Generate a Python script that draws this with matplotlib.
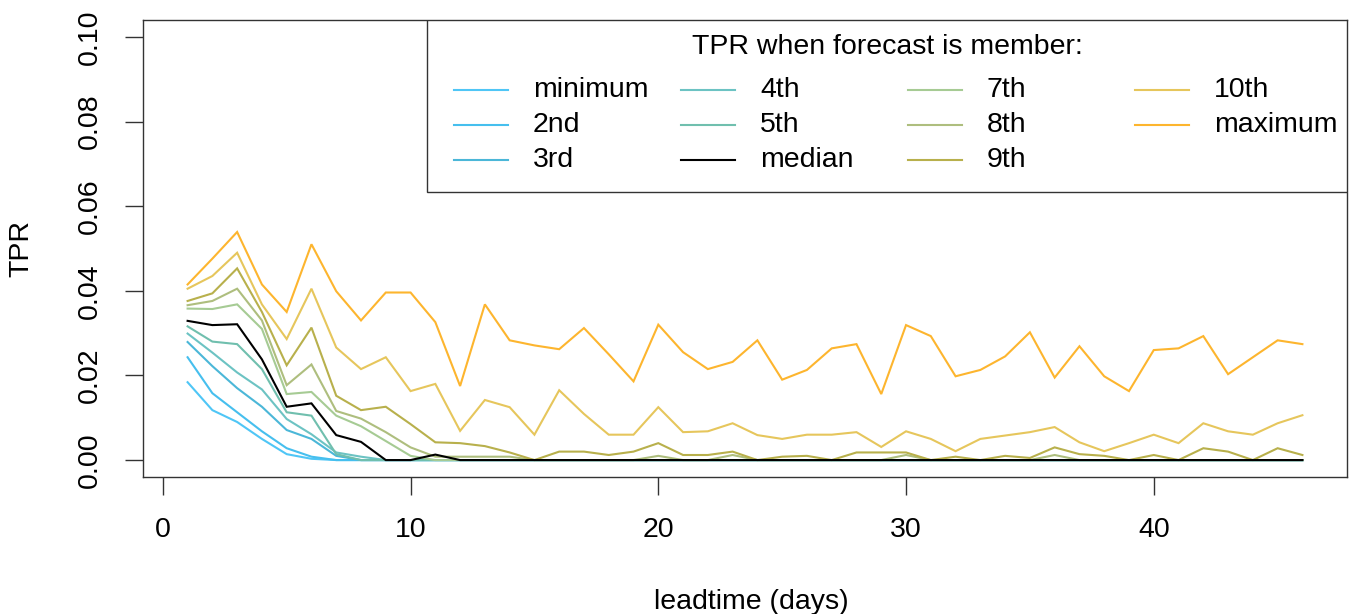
import numpy as np
import matplotlib
matplotlib.use("Agg")
import matplotlib.pyplot as plt
from matplotlib.patches import Rectangle

# ---------- data ----------
leadtime = list(range(1, 47))

tpr_min = [0.0184, 0.0118, 0.0090, 0.0050, 0.0014, 0.0003] + [0.0] * 40
tpr_2nd = [0.0243, 0.0158, 0.0113, 0.0068, 0.0028, 0.0008] + [0.0] * 40
tpr_3rd = [0.0279, 0.0222, 0.0170, 0.0126, 0.0071, 0.0050, 0.0010] + [0.0] * 39
tpr_4th = [0.0299, 0.0254, 0.0207, 0.0167, 0.0097, 0.0061, 0.0018, 0.0008] + [0.0] * 38
tpr_5th = [0.0316, 0.0280, 0.0274, 0.0215, 0.0113, 0.0105, 0.0014] + [0.0] * 39
tpr_median = [0.0329, 0.0319, 0.0321, 0.0238, 0.0126, 0.0134, 0.0059, 0.0043, 0.0, 0.0,
              0.0013] + [0.0] * 35
tpr_7th = [0.0358, 0.0357, 0.0368, 0.0310, 0.0156, 0.0161, 0.0105, 0.0080, 0.0045, 0.0010] + [0.0] * 36
tpr_8th = [0.0366, 0.0376, 0.0405, 0.0330, 0.0177, 0.0226, 0.0116, 0.0098, 0.0066, 0.0030,
           0.0008, 0.0008, 0.0008, 0.0008, 0.0, 0.0, 0.0, 0.0, 0.0, 0.0010,
           0.0, 0.0, 0.0012, 0.0, 0.0, 0.0, 0.0, 0.0, 0.0, 0.0012,
           0.0, 0.0, 0.0, 0.0, 0.0, 0.0012, 0.0, 0.0, 0.0, 0.0,
           0.0, 0.0, 0.0, 0.0, 0.0, 0.0]
tpr_9th = [0.0376, 0.0394, 0.0453, 0.0350, 0.0224, 0.0313, 0.0152, 0.0118, 0.0126, 0.0085,
           0.0042, 0.0040, 0.0033, 0.0018, 0.0000, 0.0020, 0.0020, 0.0012, 0.0020, 0.0040,
           0.0012, 0.0012, 0.0020, 0.0000, 0.0008, 0.0010, 0.0000, 0.0018, 0.0018, 0.0018,
           0.0000, 0.0008, 0.0000, 0.0010, 0.0005, 0.0030, 0.0014, 0.0010, 0.0000, 0.0012,
           0.0000, 0.0028, 0.0020, 0.0000, 0.0028, 0.0012]
tpr_10th = [0.0405, 0.0435, 0.0490, 0.0368, 0.0286, 0.0405, 0.0266, 0.0215, 0.0243, 0.0163,
            0.0180, 0.0069, 0.0142, 0.0125, 0.0060, 0.0165, 0.0109, 0.0060, 0.0060, 0.0125,
            0.0066, 0.0068, 0.0087, 0.0059, 0.0050, 0.0060, 0.0060, 0.0066, 0.0031, 0.0068,
            0.0050, 0.0021, 0.0050, 0.0058, 0.0066, 0.0078, 0.0042, 0.0021, 0.0040, 0.0060,
            0.0040, 0.0087, 0.0068, 0.0060, 0.0087, 0.0106]
tpr_max = [0.0415, 0.0476, 0.0539, 0.0415, 0.0350, 0.0510, 0.0399, 0.0330, 0.0396, 0.0396,
           0.0326, 0.0175, 0.0368, 0.0283, 0.0271, 0.0262, 0.0312, 0.0250, 0.0186, 0.0320,
           0.0255, 0.0215, 0.0232, 0.0283, 0.0190, 0.0213, 0.0264, 0.0274, 0.0156, 0.0319,
           0.0293, 0.0198, 0.0213, 0.0245, 0.0302, 0.0195, 0.0269, 0.0198, 0.0163, 0.0260,
           0.0264, 0.0293, 0.0203, 0.0243, 0.0283, 0.0274]

member_names = ["minimum", "2nd", "3rd", "4th", "5th", "median",
                "7th", "8th", "9th", "10th", "maximum"]
member_series = [tpr_min, tpr_2nd, tpr_3rd, tpr_4th, tpr_5th, tpr_median,
                 tpr_7th, tpr_8th, tpr_9th, tpr_10th, tpr_max]
member_colors = ["#4fc6f6", "#46bfee", "#4bb7d8", "#6cc3c3", "#70bfae", "#000000",
                 "#a6cb94", "#aebe7e", "#b8b04c", "#e6c65c", "#fdb52e"]

# ---------- plot ----------
plt.rcParams["font.family"] = ["Liberation Sans", "DejaVu Sans"]
plt.rcParams["font.size"] = 20.5

W, H = 1355, 614
fig = plt.figure(figsize=(W / 100, H / 100), dpi=100)
# plot box in pixels: left 143, right 1347, top 20, bottom 477
ax = fig.add_axes([143 / W, 1 - 477 / H, (1347 - 143) / W, (477 - 20) / H])

for name, vals, col in zip(member_names, member_series, member_colors):
    z = 3 if name == "median" else 2
    ax.plot(leadtime, vals, color=col, lw=1.5, zorder=z, solid_joinstyle="miter")

ax.set_xlim(-0.8, 47.8)
ax.set_ylim(-0.004, 0.104)
ax.set_xticks([0, 10, 20, 30, 40])
ax.set_yticks([0.0, 0.02, 0.04, 0.06, 0.08, 0.10])
ax.set_yticklabels([f"{v:.2f}" for v in [0.0, 0.02, 0.04, 0.06, 0.08, 0.10]],
                   rotation=90, va="center")
ax.tick_params(length=13, width=1.0, pad=16, color="#333333")

for sp in ax.spines.values():
    sp.set_linewidth(1.0)
    sp.set_color("#333333")

ax.set_xlabel("leadtime (days)")
ax.set_ylabel("TPR")
ax.xaxis.set_label_coords(0.505, -0.245)
ax.yaxis.set_label_coords(-0.09, 0.5)

# ---------- legend drawn R-style (equal column widths, column-wise fill) ----------
def axx(px):
    return (px - 143) / (1347 - 143)


def axy(py):
    return (477 - py) / (477 - 20)


ax.add_patch(Rectangle((axx(427), axy(192)), axx(1347) - axx(427), axy(20) - axy(192),
                       transform=ax.transAxes, facecolor="white", edgecolor="#333333",
                       lw=1.0, zorder=5))
ax.text(axx(887), axy(47), "TPR when forecast is member:", transform=ax.transAxes,
        ha="center", va="center", zorder=6)
for i, (name, col) in enumerate(zip(member_names, member_colors)):
    c, r = divmod(i, 3)
    x0 = 454 + 227 * c
    y0 = 90 + 35 * r
    ax.plot([axx(x0), axx(x0 + 54)], [axy(y0), axy(y0)], color=col, lw=1.5,
            transform=ax.transAxes, zorder=6)
    ax.text(axx(x0 + 79), axy(y0), name, transform=ax.transAxes,
            ha="left", va="center", zorder=6)

fig.savefig("out.png", dpi=100)
